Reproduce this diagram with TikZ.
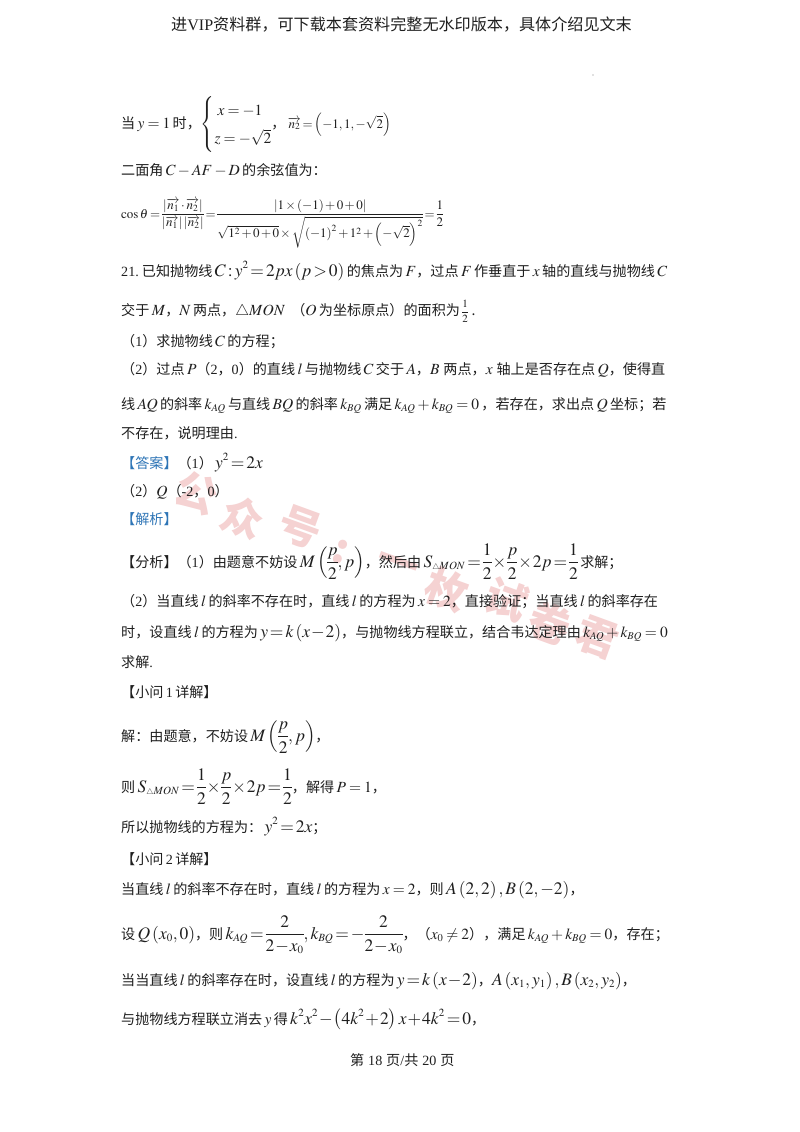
\documentclass[tikz,border=0pt]{standalone}
\usepackage{amsmath}
\usepackage{mathptmx}
\usepackage[no-math]{fontspec}
\setmainfont{Noto Sans CJK SC}
\newfontfamily\tmfont{Liberation Serif}
\usepackage{xcolor}
\definecolor{wmpink}{HTML}{F5D2D2}
\definecolor{tagblue}{HTML}{2E75B6}
\DeclareMathSizes{14.1}{15.5}{10.5}{8}
\DeclareMathSizes{17.5}{17.5}{11}{8}
\DeclareMathSizes{13}{13}{9.5}{7}
\DeclareMathSizes{11}{11}{8}{6}
\medmuskip=2.5mu plus 0mu minus 0mu
\thickmuskip=3.5mu plus 0mu minus 0mu
\nulldelimiterspace=0pt
\newcommand{\tm}[1]{{\tmfont #1}}
\newcommand{\tri}{{\scriptscriptstyle\triangle}}
\newcommand{\lgm}[1]{{\fontsize{17.5}{20}\selectfont\medmuskip=1mu\thickmuskip=2mu$\displaystyle #1$}}
\newcommand{\smm}[1]{{\fontsize{13}{16}\selectfont\medmuskip=2mu\thickmuskip=2.5mu$\displaystyle #1$}}

\tikzset{
  txt/.style={anchor=base west,inner sep=0pt,font=\fontsize{14.1}{17}\selectfont,text=black!88},
  headtxt/.style={txt,font=\fontsize{16.1}{19}\selectfont},
  wmark/.style={inner sep=0pt,font=\fontsize{42}{44}\selectfont\bfseries,text=wmpink,rotate=-20}
}

\begin{document}
\begin{tikzpicture}[x=1pt,y=-1pt]
\useasboundingbox (0,0) rectangle (800,1132);
\fill [white] (0,0) rectangle (800,1132);

% watermark
\foreach \ch/\px/\py in {公/197/493,众/243/517,号/300/527,:/340/552,一/397/567,枚/447/590,试/507/600,卷/550/623,君/597/637}
  \node (wm\px) [wmark] at (\px,\py) {\ch};

\node (head) [headtxt] at (171,31) {进\tm{VIP}资料群，可下载本套资料完整无水印版本，具体介绍见文末};
\fill [color=gray] (593,75) circle (0.6);

\node (l1) [txt] at (121,128) {当\,$y=1$\,时，$\left\{\renewcommand{\arraystretch}{1.6}\begin{array}{@{}l@{}}\;x=-1\\ z=-\sqrt{2}\end{array}\right.$，\,\smm{\overrightarrow{n_2}=\left(-1,1,-\sqrt{2}\right)}};
\node (l2) [txt] at (121,175) {二面角\,$C-AF-D$\,的余弦值为：};
\node (l3) [txt] at (121,218) {\smm{\cos\theta=\frac{\left|\overrightarrow{n_1}\cdot\overrightarrow{n_2}\right|}{\left|\overrightarrow{n_1}\right|\left|\overrightarrow{n_2}\right|}=\frac{\left|1\times\left(-1\right)+0+0\right|}{\sqrt{1^2+0+0}\times\sqrt{\left(-1\right)^2+1^2+\left(-\sqrt{2}\right)^2}}=\frac{1}{2}}};

\node (q1) [txt] at (121,276) {\tm{21.}\ 已知抛物线\,\lgm{C:y^2=2px\left(p>0\right)}\,的焦点为\,$F$，过点\,$F$\,作垂直于\,$x$\,轴的直线与抛物线\,$C$};
\node (q2) [txt] at (121,315) {交于\,$M$，$N$\,两点，$\triangle MON$\;\,（$O$\,为坐标原点）的面积为\,{\fontsize{11}{13}\selectfont$\dfrac{1}{2}$}\;.};
\node (q3) [txt] at (121,346) {（\tm{1}）求抛物线\,$C$\,的方程；};
\node (q4) [txt] at (121,374) {（\tm{2}）过点\,$P$（\tm{2}，\tm{0}）的直线\,$l$\,与抛物线\,$C$\,交于\,$A$，$B$\;两点，$x$\;轴上是否存在点\,$Q$，使得直};
\node (q5) [txt] at (121,409) {线\,$AQ$\,的斜率\,$k_{AQ}$\,与直线\,$BQ$\,的斜率\,$k_{BQ}$\,满足\,$k_{AQ}+k_{BQ}=0$\,，若存在，求出点\,$Q$\,坐标；若};
\node (q6) [txt] at (121,438) {不存在，说明理由\tm{.}};

\node (ans1) [txt] at (121,468) {\textcolor{tagblue}{【答案】}（\tm{1}）\,\lgm{y^2=2x}};
\node (ans2) [txt] at (121,496) {（\tm{2}）$Q$（\tm{-2}，\tm{0}）};
\node (jx) [txt] at (121,524) {\textcolor{tagblue}{【解析】}};

\node (fx1) [txt] at (121,567) {【分析】（\tm{1}）由题意不妨设\,\lgm{M\left(\frac{p}{2},p\right)}，然后由\,\lgm{S_{\tri MON}=\frac{1}{2}\times\frac{p}{2}\times2p=\frac{1}{2}}\,求解；};
\node (fx2) [txt] at (121,606) {（\tm{2}）当直线\,$l$\,的斜率不存在时，直线\,$l$\,的方程为\,$x=2$，直接验证；当直线\,$l$\,的斜率存在};
\node (fx3) [txt] at (121,637) {时，设直线\,$l$\,的方程为\,\lgm{y=k\left(x-2\right)}，与抛物线方程联立，结合韦达定理由\,$k_{AQ}+k_{BQ}=0$};
\node (fx4) [txt] at (121,667) {求解\tm{.}};

\node (xw1) [txt] at (121,697) {【小问\,\tm{1}\,详解】};
\node (s1) [txt] at (121,741) {解：由题意，不妨设\,\lgm{M\left(\frac{p}{2},p\right)}，};
\node (s2) [txt] at (121,792) {则\,\lgm{S_{\tri MON}=\frac{1}{2}\times\frac{p}{2}\times2p=\frac{1}{2}}，解得\,$P=1$，};
\node (s3) [txt] at (121,832) {所以抛物线的方程为：\,\lgm{y^2=2x}；};

\node (xw2) [txt] at (121,864) {【小问\,\tm{2}\,详解】};
\node (s4) [txt] at (121,894) {当直线\,$l$\,的斜率不存在时，直线\,$l$\,的方程为\,$x=2$，则\,\lgm{A\left(2,2\right),B\left(2,-2\right)}，};
\node (s5) [txt] at (121,939) {设\,\lgm{Q\left(x_0,0\right)}，则\,\lgm{k_{AQ}=\frac{2}{2-x_0},k_{BQ}=-\frac{2}{2-x_0}}，（$x_0\neq2$），满足\,$k_{AQ}+k_{BQ}=0$，存在；};
\node (s6) [txt] at (121,985) {当当直线\,$l$\,的斜率存在时，设直线\,$l$\,的方程为\,\lgm{y=k\left(x-2\right)}，\lgm{A\left(x_1,y_1\right),B\left(x_2,y_2\right)}，};
\node (s7) [txt] at (121,1024) {与抛物线方程联立消去\,$y$\,得\,\lgm{k^2x^2-\left(4k^2+2\right)x+4k^2=0}，};

\node (foot) [txt] at (350,1065) {第\;\tm{18}\;页\tm{/}共\;\tm{20}\;页};
\end{tikzpicture}
\end{document}
